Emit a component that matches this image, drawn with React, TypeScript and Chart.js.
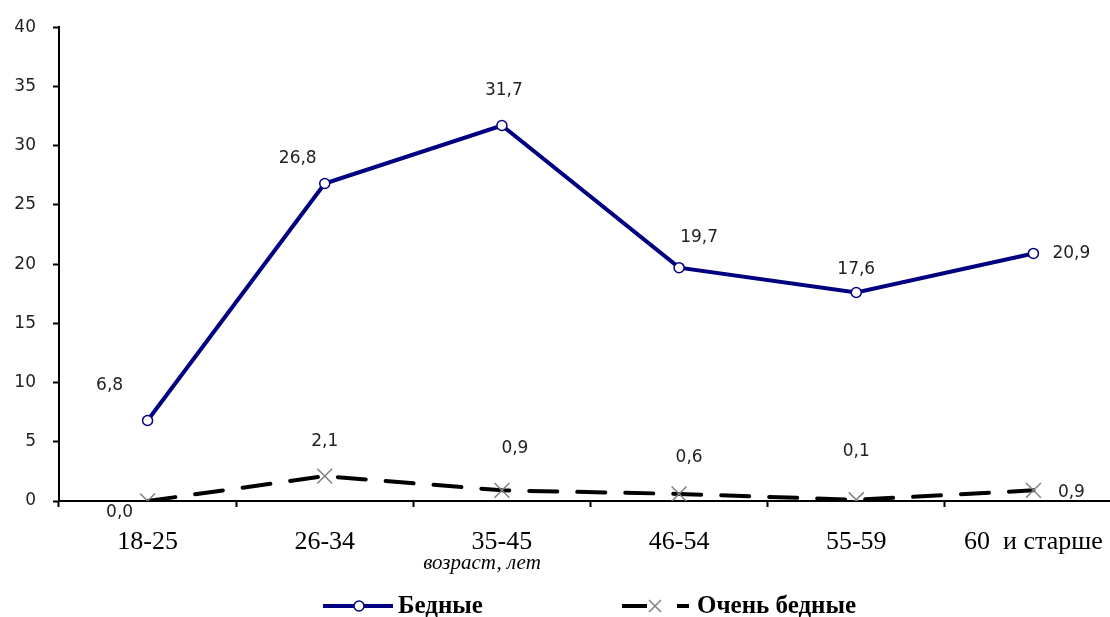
import React, { useEffect, useRef } from "react";
import { Chart, registerables } from "chart.js";

Chart.register(...registerables);

const categories = ["18-25", "26-34", "35-45", "46-54", "55-59", "60  и старше"];
const poorValues = [6.8, 26.8, 31.7, 19.7, 17.6, 20.9];
const veryPoorValues = [0.0, 2.1, 0.9, 0.6, 0.1, 0.9];
const yTicks = [0, 5, 10, 15, 20, 25, 30, 35, 40];
const seriesNames = ["Бедные", "Очень бедные"];
const axisTitle = "возраст, лет";

// label offsets (style only)
const poorLabelOffsets = [[-38, -35], [-27, -25], [2, -35], [20, -30], [0, -23], [38, 0]];
const veryPoorLabelOffsets = [[-28, 12], [0, -35], [13, -42], [10, -36], [0, -48], [38, 2]];

const fmt = (v: number) => v.toFixed(1).replace(".", ",");

const CW = 1134;
const CH = 617;

export default function App() {
  const ref = useRef<HTMLCanvasElement | null>(null);

  useEffect(() => {
    if (!ref.current) return;
    const labelsPlugin = {
      id: "customLabels",
      afterDatasetsDraw(chart: any) {
        const ctx = chart.ctx;
        ctx.save();
        ctx.font = "17px 'DejaVu Sans'";
        ctx.fillStyle = "#222";
        ctx.textAlign = "center";
        ctx.textBaseline = "middle";
        const offs = [poorLabelOffsets, veryPoorLabelOffsets];
        chart.data.datasets.forEach((ds: any, di: number) => {
          const meta = chart.getDatasetMeta(di);
          meta.data.forEach((pt: any, i: number) => {
            const [dx, dy] = offs[di][i];
            ctx.fillText(fmt(ds.data[i]), pt.x + dx, pt.y + dy);
          });
        });
        ctx.restore();
      },
      afterDraw(chart: any) {
        const ctx = chart.ctx;
        ctx.save();
        // axis title
        ctx.font = "italic 21px 'Liberation Serif'";
        ctx.fillStyle = "#000";
        ctx.textAlign = "center";
        ctx.textBaseline = "middle";
        ctx.fillText(axisTitle, 482, 563);

        // legend
        const ly = 606;
        ctx.lineCap = "butt";
        // item 1
        ctx.strokeStyle = "#000080";
        ctx.lineWidth = 4;
        ctx.beginPath();
        ctx.moveTo(323, ly);
        ctx.lineTo(393, ly);
        ctx.stroke();
        ctx.beginPath();
        ctx.arc(359, ly, 5, 0, Math.PI * 2);
        ctx.fillStyle = "#fff";
        ctx.fill();
        ctx.lineWidth = 1.5;
        ctx.stroke();
        ctx.font = "bold 25px 'Liberation Serif'";
        ctx.fillStyle = "#000";
        ctx.textAlign = "left";
        ctx.fillText(seriesNames[0], 398, ly + 1);

        // item 2
        ctx.strokeStyle = "#000";
        ctx.lineWidth = 4;
        ctx.beginPath();
        ctx.moveTo(622, ly);
        ctx.lineTo(647, ly);
        ctx.moveTo(677, ly);
        ctx.lineTo(689, ly);
        ctx.stroke();
        ctx.strokeStyle = "#808080";
        ctx.lineWidth = 1.5;
        const r = 6;
        ctx.beginPath();
        ctx.moveTo(655 - r, ly - r);
        ctx.lineTo(655 + r, ly + r);
        ctx.moveTo(655 - r, ly + r);
        ctx.lineTo(655 + r, ly - r);
        ctx.stroke();
        ctx.fillStyle = "#000";
        ctx.fillText(seriesNames[1], 697, ly + 1);
        ctx.restore();
      },
    };

    const chart = new Chart(ref.current, {
      type: "line",
      data: {
        labels: categories,
        datasets: [
          {
            label: seriesNames[0],
            data: poorValues,
            borderColor: "#000080",
            borderWidth: 4,
            pointStyle: "circle",
            pointRadius: 5,
            pointBackgroundColor: "#fff",
            pointBorderColor: "#000080",
            pointBorderWidth: 1.5,
            tension: 0,
          },
          {
            label: seriesNames[1],
            data: veryPoorValues,
            borderColor: "#000",
            borderWidth: 4,
            borderDash: [28, 20],
            borderCapStyle: "round",
            pointStyle: "crossRot",
            pointRadius: 10.5,
            pointBorderColor: "#808080",
            pointBorderWidth: 1.5,
            tension: 0,
          },
        ],
      },
      options: {
        responsive: false,
        animation: false,
        layout: { padding: { top: 25, right: 4, left: 0, bottom: 0 } },
        plugins: { legend: { display: false }, tooltip: { enabled: false } },
        scales: {
          x: {
            type: "category",
            offset: true,
            grid: {
              display: true,
              drawOnChartArea: false,
              drawTicks: true,
              tickLength: 6,
              tickWidth: 2,
              tickColor: "#000",
              offset: true,
            },
            border: { display: true, color: "#000", width: 2 },
            ticks: {
              color: "#000",
              font: { family: "'Liberation Serif'", size: 26 },
              padding: 20,
              maxRotation: 0,
              autoSkip: false,
            },
            afterFit(scale: any) {
              scale.height = CH - 501;
            },
          },
          y: {
            min: 0,
            max: 40,
            afterBuildTicks(scale: any) {
              scale.ticks = yTicks.map((v) => ({ value: v }));
            },
            grid: {
              display: true,
              drawOnChartArea: false,
              drawTicks: true,
              tickLength: 6,
              tickWidth: 2,
              tickColor: "#000",
            },
            border: { display: true, color: "#000", width: 2 },
            ticks: {
              color: "#222",
              font: { family: "'DejaVu Sans'", size: 17 },
              padding: 17,
            },
            afterFit(scale: any) {
              scale.width = 59;
            },
          },
        },
      },
      plugins: [labelsPlugin],
    });
    return () => chart.destroy();
  }, []);

  return (
    <div
      style={{
        position: "fixed",
        left: 0,
        top: 0,
        width: 1110,
        height: 617,
        overflow: "hidden",
        background: "#fff",
      }}
    >
      <canvas ref={ref} width={CW} height={CH} style={{ width: CW, height: CH, display: "block" }} />
    </div>
  );
}
